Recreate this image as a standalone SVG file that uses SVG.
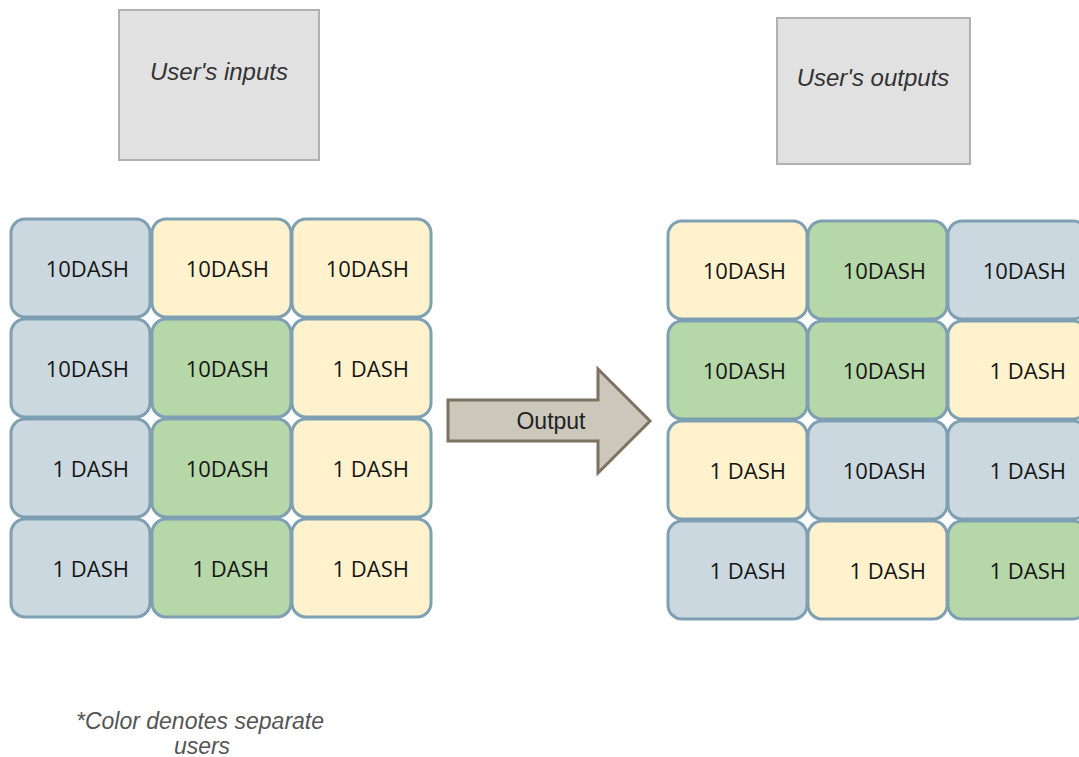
<svg xmlns="http://www.w3.org/2000/svg" width="1079" height="757" viewBox="0 0 1079 757">
<style>
.cell{stroke:#7f9fb2;stroke-width:3}
.b{fill:#cbd8e0}
.y{fill:#fff2cd}
.g{fill:#b6d7a8}
.ct{font-family:"Open Sans",sans-serif;font-size:22px;fill:#151515;text-anchor:end}
.hdr{fill:#e1e1e1;stroke:#b0b0b0;stroke-width:2}
.ht{font-family:"Liberation Sans",Arial,sans-serif;font-style:italic;font-size:24px;fill:#333;text-anchor:middle}
.note{font-family:"Liberation Sans",Arial,sans-serif;font-style:italic;font-size:23px;fill:#555;text-anchor:middle}
</style>
<rect width="1079" height="757" fill="#ffffff"/>
<g id="inputs-label">
<rect class="hdr" x="119" y="10" width="200" height="150"/>
<text class="ht" x="219" y="80">User's inputs</text>
</g>
<g id="outputs-label">
<rect class="hdr" x="777" y="18" width="193" height="146"/>
<text class="ht" x="873" y="86">User's outputs</text>
</g>
<g id="input-grid">
<g id="in-r1c1"><rect class="cell b" x="11" y="219" width="139" height="98" rx="14"/><text class="ct" x="129" y="277">10DASH</text></g>
<g id="in-r1c2"><rect class="cell y" x="152" y="219" width="139" height="98" rx="14"/><text class="ct" x="269" y="277">10DASH</text></g>
<g id="in-r1c3"><rect class="cell y" x="292" y="219" width="139" height="98" rx="14"/><text class="ct" x="409" y="277">10DASH</text></g>
<g id="in-r2c1"><rect class="cell b" x="11" y="319" width="139" height="98" rx="14"/><text class="ct" x="129" y="377">10DASH</text></g>
<g id="in-r2c2"><rect class="cell g" x="152" y="319" width="139" height="98" rx="14"/><text class="ct" x="269" y="377">10DASH</text></g>
<g id="in-r2c3"><rect class="cell y" x="292" y="319" width="139" height="98" rx="14"/><text class="ct" x="409" y="377">1 DASH</text></g>
<g id="in-r3c1"><rect class="cell b" x="11" y="419" width="139" height="98" rx="14"/><text class="ct" x="129" y="477">1 DASH</text></g>
<g id="in-r3c2"><rect class="cell g" x="152" y="419" width="139" height="98" rx="14"/><text class="ct" x="269" y="477">10DASH</text></g>
<g id="in-r3c3"><rect class="cell y" x="292" y="419" width="139" height="98" rx="14"/><text class="ct" x="409" y="477">1 DASH</text></g>
<g id="in-r4c1"><rect class="cell b" x="11" y="519" width="139" height="98" rx="14"/><text class="ct" x="129" y="577">1 DASH</text></g>
<g id="in-r4c2"><rect class="cell g" x="152" y="519" width="139" height="98" rx="14"/><text class="ct" x="269" y="577">1 DASH</text></g>
<g id="in-r4c3"><rect class="cell y" x="292" y="519" width="139" height="98" rx="14"/><text class="ct" x="409" y="577">1 DASH</text></g>
</g>
<g id="output-arrow">
<polygon points="448,400 598,400 598,369 650,421 598,473 598,441 448,441" fill="#cbc7bb" stroke="#7d7260" stroke-width="3" stroke-linejoin="miter"/>
<text x="551" y="429" font-family="'Liberation Sans',Arial,sans-serif" font-size="23" fill="#222" text-anchor="middle">Output</text>
</g>
<g id="output-grid">
<g id="out-r1c1"><rect class="cell y" x="668" y="221" width="139" height="98" rx="14"/><text class="ct" x="786" y="279">10DASH</text></g>
<g id="out-r1c2"><rect class="cell g" x="808" y="221" width="139" height="98" rx="14"/><text class="ct" x="926" y="279">10DASH</text></g>
<g id="out-r1c3"><rect class="cell b" x="948" y="221" width="139" height="98" rx="14"/><text class="ct" x="1066" y="279">10DASH</text></g>
<g id="out-r2c1"><rect class="cell g" x="668" y="321" width="139" height="98" rx="14"/><text class="ct" x="786" y="379">10DASH</text></g>
<g id="out-r2c2"><rect class="cell g" x="808" y="321" width="139" height="98" rx="14"/><text class="ct" x="926" y="379">10DASH</text></g>
<g id="out-r2c3"><rect class="cell y" x="948" y="321" width="139" height="98" rx="14"/><text class="ct" x="1066" y="379">1 DASH</text></g>
<g id="out-r3c1"><rect class="cell y" x="668" y="421" width="139" height="98" rx="14"/><text class="ct" x="786" y="479">1 DASH</text></g>
<g id="out-r3c2"><rect class="cell b" x="808" y="421" width="139" height="98" rx="14"/><text class="ct" x="926" y="479">10DASH</text></g>
<g id="out-r3c3"><rect class="cell b" x="948" y="421" width="139" height="98" rx="14"/><text class="ct" x="1066" y="479">1 DASH</text></g>
<g id="out-r4c1"><rect class="cell b" x="668" y="521" width="139" height="98" rx="14"/><text class="ct" x="786" y="579">1 DASH</text></g>
<g id="out-r4c2"><rect class="cell y" x="808" y="521" width="139" height="98" rx="14"/><text class="ct" x="926" y="579">1 DASH</text></g>
<g id="out-r4c3"><rect class="cell g" x="948" y="521" width="139" height="98" rx="14"/><text class="ct" x="1066" y="579">1 DASH</text></g>
</g>
<g id="connectors"></g>
<g id="footnote">
<text class="note" x="200" y="729">*Color denotes separate</text>
<text class="note" x="202" y="754">users</text>
</g>
</svg>
